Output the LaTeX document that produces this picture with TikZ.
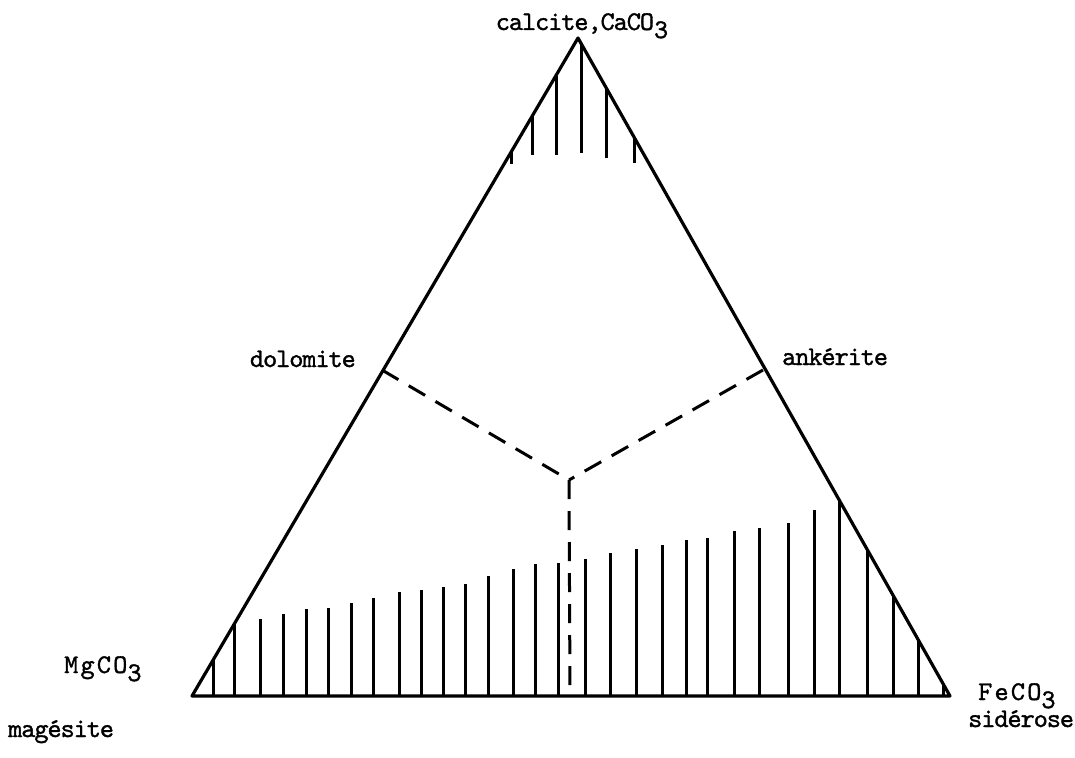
\documentclass[tikz,border=0pt]{standalone}
\usepackage{fontspec}
\newfontfamily\twfont{lmmono10-regular.otf}[FakeBold=1.2,LetterSpace=-4]
\newcommand\wideon{\addfontfeatures{LetterSpace=8}}
\begin{document}
\begin{tikzpicture}[x=1pt,y=-1pt,
  edge/.style={line width=3.2pt,line join=round},
  hatch/.style={line width=3pt},
  dashline/.style={line width=3pt,dash pattern=on 19pt off 12pt},
  lbl/.style={inner sep=0pt,font=\twfont\fontsize{27}{30}\selectfont}]
\useasboundingbox (0,0) rectangle (1075,757);
\coordinate (A) at (578,38);
\coordinate (BL) at (192,696);
\coordinate (BR) at (950,696);
\coordinate (D) at (382,370);
\coordinate (K) at (763,370);
\coordinate (C) at (569,480);
\coordinate (Cb) at (570,696);
% hatching (bottom band)
\foreach \x/\y in {213/660,234/624,260/619,283/614,306/609,328/608,351/603,373/598,
  399/592,421/590,443/587,465/584,488/576,513/569,535/564,558/563,585/559,610/553,
  636/549,662/545,686/540,707/538,734/531,759/528,788/523,814/510,839/501,867/550,
  893/595,918/640,943/684}
  \draw[hatch] (\x,\y) -- (\x,696);
% hatching (top)
\foreach \x/\a/\b in {511/152/164,532/116/155,556/76/155,581/43/153,606/88/158,634/137/163}
  \draw[hatch] (\x,\a) -- (\x,\b);
% triangle
\draw[edge] (A) -- (BL) -- (BR) -- cycle;
% dashed boundaries
\draw[dashline] (D) -- (C);
\draw[dashline] (K) -- (C);
\draw[dashline] (C) -- (Cb);
% labels
\node[lbl,anchor=base] (tCa) at (582,30) {calcite,CaCO\raisebox{-0.3em}{3}};
\node[lbl,anchor=base east] (tDo) at (356,367) {dolomite};
\node[lbl,anchor=base west] (tAn) at (782,365) {ankérite};
\node[lbl,anchor=base west] (tMg) at (64,673) {\wideon MgCO\raisebox{-0.3em}{3}};
\node[lbl,anchor=base west] (tMa) at (8,737) {magésite};
\node[lbl,anchor=base west] (tFe) at (978,700) {\wideon FeCO\raisebox{-0.3em}{3}};
\node[lbl,anchor=base west] (tSi) at (968,727) {sidérose};
\end{tikzpicture}
\end{document}
